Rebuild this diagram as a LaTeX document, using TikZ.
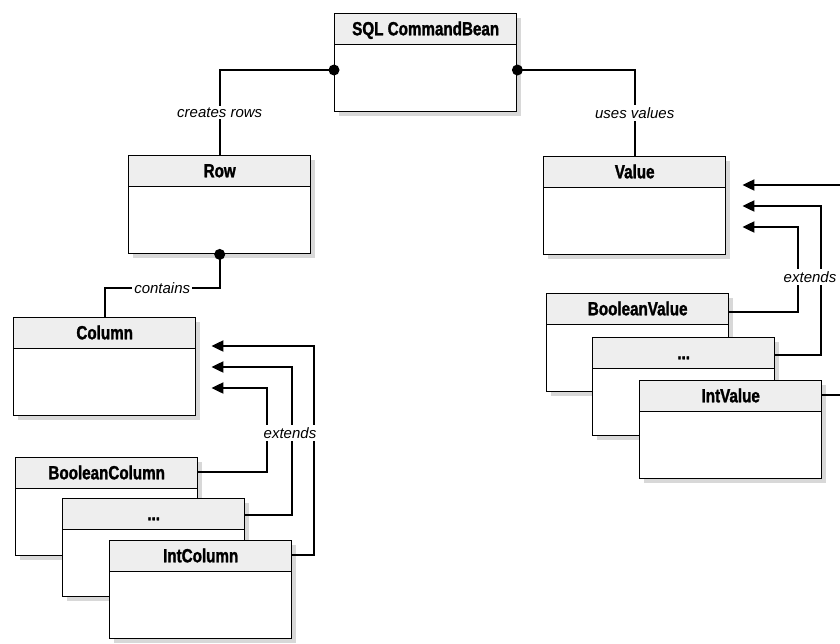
\documentclass[tikz,border=0pt]{standalone}
\usepackage{fontspec}
\setmainfont{Liberation Sans}
\newfontfamily\kopffont[FakeStretch=0.8,FakeBold=1.5]{Liberation Sans}
\usetikzlibrary{arrows.meta,calc,shadows}

\begin{document}
\begin{tikzpicture}[x=1pt,y=-1pt,
  klasse/.style={draw,line width=1.4pt,fill=white,anchor=north west,
    minimum width=182pt,minimum height=98pt,inner sep=0pt,
    drop shadow={shadow xshift=4pt,shadow yshift=-4pt,fill=black!30},
    path picture={
      \fill[kopfgrau] (path picture bounding box.north west) rectangle ([yshift=-31pt]path picture bounding box.north east);
      \draw[line width=1.4pt] ([yshift=-31pt]path picture bounding box.north west) -- ([yshift=-31pt]path picture bounding box.north east);},
    label={[anchor=center,yshift=-15.5pt,inner sep=0pt,text height=13.5pt,text depth=0pt,
      font=\kopffont\bfseries\fontsize{19}{19}\selectfont]north:#1}},
  verb/.style={line width=2pt},
  erbt/.style={line width=2pt,-{Triangle[length=12pt,width=11pt]}},
  lbl/.style={fill=white,inner sep=2pt,font=\itshape\fontsize{15}{15}\selectfont}]

\definecolor{kopfgrau}{RGB}{238,238,238};

\useasboundingbox (0,0) rectangle (840,643);

% klassen
\node[klasse=SQL CommandBean] (bean) at (334,13) {};
\node[klasse=Row]   (row) at (128,155) {};
\node[klasse=Value] (val) at (543,156) {};

\node[klasse=Column]        (col)  at (13,317)  {};
\node[klasse=BooleanColumn] (bcol) at (15,457)  {};
\node[klasse=...]           (dcol) at (62,498)  {};
\node[klasse=IntColumn]     (icol) at (109,540) {};

\node[klasse=BooleanValue] (bval) at (546,293) {};
\node[klasse=...]          (dval) at (592,337) {};
\node[klasse=IntValue]     (ival) at (639,380) {};

% assoziationen
\coordinate (beanL) at ($(bean.north west)+(0,57)$);
\coordinate (beanR) at ($(bean.north east)+(0,57)$);

\draw[verb] (beanL) -| node[lbl,pos=0.75] (lrows) {creates rows} (row.north);
\draw[verb] (beanR) -| node[lbl,pos=0.75] (lvals) {uses values} (val.north);
\draw[verb] (row.south) -- ++(0,34) -| node[lbl,pos=0.25] (lcont) {contains} (col.north);

\fill (beanL) circle [radius = 5.5pt];
\fill (beanR) circle [radius = 5.5pt];
\fill (row.south) circle [radius = 5.5pt];

% vererbung links
\coordinate (colA) at ($(col.north east)+(15,29)$);
\coordinate (colB) at ($(col.north east)+(15,50)$);
\coordinate (colC) at ($(col.north east)+(15,71)$);

\draw[erbt] ($(icol.north east)+(0,15)$) -- ++(22,0) |- (colA);
\draw[erbt] ($(dcol.north east)+(0,17)$) -- ++(47,0) |- (colB);
\draw[erbt] ($(bcol.north east)+(0,15)$) -- ++(69,0) |- (colC);

\node[lbl] (lext1) at (290,433) {extends};

% vererbung rechts
\coordinate (valA) at ($(val.north east)+(16,29)$);
\coordinate (valB) at ($(val.north east)+(16,50)$);
\coordinate (valC) at ($(val.north east)+(16,71)$);

\draw[erbt] ($(ival.north east)+(0,15)$) -- ++(25,0) |- (valA);
\draw[erbt] ($(dval.north east)+(0,18)$) -- ++(46,0) |- (valB);
\draw[erbt] ($(bval.north east)+(0,19)$) -- ++(69,0) |- (valC);

\node[lbl] (lext2) at (810,277) {extends};
\end{tikzpicture}
\end{document}
